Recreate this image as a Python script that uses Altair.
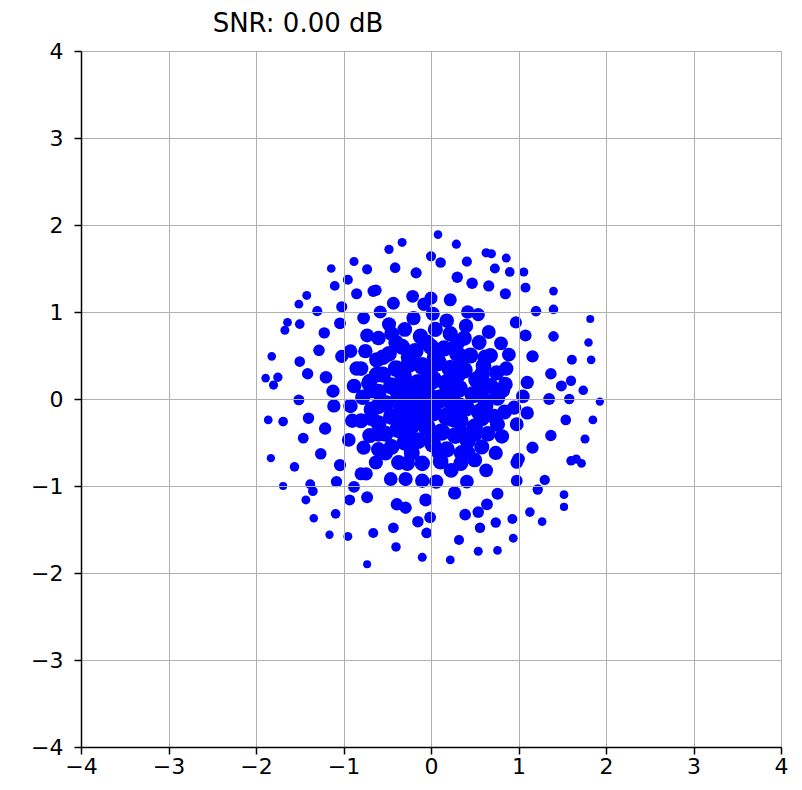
import altair as alt
import pandas as pd

# Outer (readable) points
x_outer = [
    0.08, -0.33, -0.48, 0.29, 0.63, 0.69, 0.00, 0.11, 0.41, -0.41, -0.17, 0.73, 0.30, 0.47, 0.66, -0.63, -0.21, 0.00, -0.08, 0.22, -0.43, -0.58, 0.42, 0.54, 0.66,
    -0.88, -1.14, -0.73, -0.95, -1.10, -0.85, -0.66, -1.42, -1.51, -1.02, -1.30, -0.77, -1.64, -1.50, -1.04, -1.67, -1.22, -0.73,
    0.86, 0.90, 1.06, 1.08, 0.85, 1.40, 1.20, 1.40, 1.82, 0.97, 1.08, 1.40, 1.80, 0.80,
    -1.28, -1.82, -1.50, -1.02, -0.92, -0.85, -1.41, -1.20, -1.89, -1.75, -1.80, -1.12, -0.88, -0.71, -1.51, -1.11, -0.92, -1.86, -1.69, -1.40, -0.90, -1.21, -1.46, -0.94, -0.77, -1.26, -1.83,
    0.89, 1.16, 1.61, 1.83, 0.86, 1.37, 1.60, 1.49, 1.74, 1.10, 0.85, 1.05, 1.35, 1.58, 1.93, 0.76, 0.95, 0.84, 1.10, 0.98, 1.54, 1.85, 0.76, 0.81, 1.37, 1.76, 1.16, 1.66, 1.00, 0.74,
    -1.56, -1.04, -1.69, -1.38, -1.35, -1.08, -0.88, -0.80, -0.74, -1.43, -0.93, -0.73, -1.09, -1.34, -1.16, -0.95, -0.66, -0.73, -0.63,
    -0.37, -0.27, -0.10, 0.11, 0.34, 0.63, -0.46, -0.29, -0.10, 0.06, 0.23, 0.41, 0.27, 0.76, -0.06, -0.39, -0.29, 0.64, 0.39, 0.54, -0.01, -0.15, 0.74, 0.56, -0.43, -0.05, 0.32, -0.40, 0.54, -0.10, 0.22, 0.76,
    0.98, 1.60, 1.72, 0.98, 1.30, 1.22, 1.52, 1.52, 1.13, 1.27, 0.93, 0.94,
]
y_outer = [
    1.89, 1.80, 1.72, 1.78, 1.68, 1.67, 1.64, 1.57, 1.58, 1.51, 1.45, 1.50, 1.40, 1.33, 1.30, 1.25, 1.18, 1.16, 1.09, 1.14, 1.10, 1.00, 1.00, 0.97, 0.77,
    1.58, 1.50, 1.49, 1.37, 1.30, 1.21, 1.24, 1.19, 1.09, 1.06, 1.01, 0.93, 0.88, 0.86, 0.87, 0.79, 0.76, 0.73,
    1.62, 1.46, 1.46, 1.28, 1.21, 1.24, 1.01, 1.03, 0.92, 0.88, 0.73, 0.72, 0.65, 0.64,
    0.56, 0.49, 0.43, 0.49, 0.55, 0.35, 0.29, 0.25, 0.24, 0.25, 0.16, 0.09, 0.15, 0.18, -0.01, -0.08, -0.08, -0.24, -0.26, -0.22, -0.25, -0.34, -0.45, -0.47, -0.56, -0.63, -0.68,
    0.51, 0.49, 0.45, 0.45, 0.35, 0.29, 0.21, 0.15, 0.10, 0.19, 0.17, 0.03, 0.00, 0.00, -0.03, 0.01, -0.10, -0.15, -0.16, -0.29, -0.24, -0.24, -0.29, -0.43, -0.42, -0.46, -0.56, -0.69, -0.69, -0.62,
    -0.78, -0.76, -1.00, -0.98, -1.06, -0.95, -1.01, -0.86, -0.86, -1.16, -1.16, -1.13, -1.32, -1.37, -1.56, -1.58, -1.54, -1.90, -0.73,
    -0.73, -0.74, -0.74, -0.72, -0.74, -0.82, -0.92, -0.92, -0.94, -0.95, -0.82, -0.95, -1.08, -1.09, -1.16, -1.21, -1.25, -1.21, -1.33, -1.30, -1.36, -1.41, -1.42, -1.48, -1.48, -1.54, -1.62, -1.70, -1.75, -1.82, -1.85, -1.74,
    -0.73, -0.71, -0.74, -0.94, -0.93, -1.04, -1.10, -1.24, -1.30, -1.41, -1.38, -1.60,
]

# Dense central cluster (estimated)
x_inner = [
    -0.75, -0.60, -0.45, -0.30, -0.12, 0.05, 0.22, 0.38, 0.55, 0.68,
    -0.80, -0.62, -0.48, -0.33, -0.18, 0.00, 0.15, 0.30, 0.45, 0.60, 0.75,
    -0.70, -0.55, -0.40, -0.25, -0.10, 0.08, 0.22, 0.38, 0.52, 0.68, 0.82,
    -0.78, -0.60, -0.45, -0.30, -0.15, 0.02, 0.18, 0.32, 0.48, 0.62,
    -0.68, -0.52, -0.38, -0.22, -0.05, 0.10, 0.25, 0.40, 0.55, 0.72,
    -0.80, -0.60, -0.45, -0.30, -0.15, 0.02, 0.18, 0.33, 0.50, 0.65,
    -0.70, -0.52, -0.38, -0.22, -0.05, 0.12, 0.28, 0.42, 0.58,
    -0.60, -0.45, -0.30, -0.15, 0.02, 0.18, 0.35, 0.50,
    -0.48, -0.20, 0.18, 0.40, 0.02,
    -0.55, -0.25, 0.05, 0.35, 0.62,
    -0.62, -0.32, -0.02, 0.30, 0.58,
    -0.68, -0.38, -0.08, 0.25, 0.55, 0.75,
    -0.60, -0.30, 0.00, 0.32, 0.62,
    -0.68, -0.38, -0.08, 0.25, 0.58,
    -0.60, -0.30, 0.02, 0.35, 0.50,
    -0.52, -0.22, 0.10, 0.42,
    -0.40, -0.05, 0.30,
]
y_inner = [
    0.55, 0.70, 0.75, 0.80, 0.72, 0.80, 0.75, 0.70, 0.65, 0.50,
    0.35, 0.45, 0.52, 0.60, 0.55, 0.60, 0.58, 0.52, 0.50, 0.38, 0.30,
    0.20, 0.28, 0.35, 0.40, 0.38, 0.42, 0.35, 0.33, 0.22, 0.15, 0.10,
    0.02, 0.08, 0.15, 0.20, 0.18, 0.22, 0.18, 0.12, 0.05, -0.02,
    -0.12, -0.05, -0.02, 0.02, 0.05, 0.00, -0.05, -0.10, -0.15, -0.20,
    -0.25, -0.28, -0.20, -0.15, -0.12, -0.15, -0.20, -0.25, -0.32, -0.40,
    -0.42, -0.40, -0.35, -0.30, -0.32, -0.38, -0.42, -0.48, -0.55,
    -0.58, -0.55, -0.50, -0.48, -0.52, -0.58, -0.62, -0.70,
    0.86, 0.93, 0.90, 0.84, 0.98,
    0.48, 0.48, 0.48, 0.48, 0.48,
    0.28, 0.28, 0.28, 0.28, 0.28,
    0.10, 0.10, 0.10, 0.10, 0.10, 0.10,
    -0.08, -0.08, -0.08, -0.08, -0.08,
    -0.22, -0.22, -0.22, -0.22, -0.22,
    -0.40, -0.40, -0.40, -0.40, -0.40,
    -0.62, -0.62, -0.62, -0.62,
    0.65, 0.65, 0.65,
]

ticks = [-4, -3, -2, -1, 0, 1, 2, 3, 4]
title_text = "SNR: 0.00 dB"

df = pd.DataFrame({"x": x_outer + x_inner, "y": y_outer + y_inner})

axis_common = dict(
    values=ticks,
    grid=True,
    gridColor="#b0b0b0",
    gridWidth=1,
    domainColor="black",
    domainWidth=1.5,
    tickColor="black",
    tickWidth=1.5,
    tickSize=7,
    labelFont="DejaVu Sans",
    labelFontSize=22,
    labelColor="black",
    labelFlush=False,
    labelOverlap=False,
    title=None,
    zindex=1,
)

chart = (
    alt.Chart(df)
    .transform_calculate(
        r="sqrt(datum.x*datum.x + datum.y*datum.y)",
    )
    .transform_calculate(
        s="pow(max(8, 20 - 6*datum.r), 2)",
    )
    .mark_circle(color="#0000ff", opacity=1)
    .encode(
        x=alt.X("x:Q", scale=alt.Scale(domain=[-4, 4], nice=False, zero=False),
                axis=alt.Axis(labelPadding=2, **axis_common)),
        y=alt.Y("y:Q", scale=alt.Scale(domain=[-4, 4], nice=False, zero=False),
                axis=alt.Axis(labelPadding=11, **axis_common)),
        size=alt.Size("s:Q", scale=None, legend=None),
    )
    .properties(
        width=700,
        height=696,
        autosize="none",
        padding={"left": 73, "top": 43, "right": 13, "bottom": 35},
        title=alt.TitleParams(
            title_text,
            font="DejaVu Sans",
            fontSize=26,
            fontWeight="normal",
            color="black",
            anchor="middle",
            dx=-133,
            offset=3,
        ),
    )
    .configure_view(stroke="black", strokeWidth=1.5)
    .configure(background="white")
)

chart.save("out.html", embed_options={"renderer": "svg", "actions": False})
